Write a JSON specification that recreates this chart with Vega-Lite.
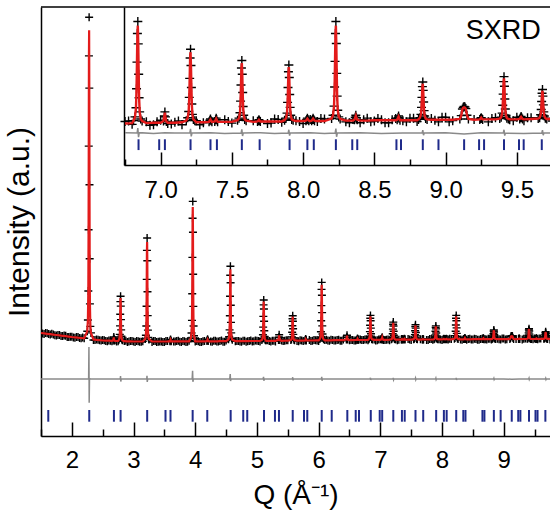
{
"$schema": "https://vega.github.io/schema/vega-lite/v6.json",
"width": 509, "height": 429,
"autosize": {"type": "none"},
"padding": {"left": 41, "top": 7, "right": 0, "bottom": 76},
"background": "white",
"config": {"view": {"stroke": null}, "axis": {"grid": false, "domainColor": "black", "tickColor": "black", "labelColor": "black", "titleColor": "black", "labelFont": "Liberation Sans", "titleFont": "Liberation Sans", "titleFontWeight": "normal"}},
"datasets": {
"pat": [
{"q":1.50,"o":1033,"c":1030},{"q":1.55,"o":1021,"c":1026},{"q":1.60,"o":1028,"c":1022},{"q":1.65,"o":1016,"c":1018},{"q":1.70,"o":1015,"c":1014},{"q":1.75,"o":1004,"c":1010},{"q":1.80,"o":1010,"c":1006},{"q":1.85,"o":1001,"c":1002},{"q":1.90,"o":1003,"c":998},{"q":1.95,"o":991,"c":994},{"q":2.00,"o":993,"c":990},{"q":2.05,"o":982,"c":987},{"q":2.10,"o":989,"c":983},{"q":2.15,"o":978,"c":980},{"q":2.20,"o":977,"c":976},{"q":2.35,"o":960,"c":966},{"q":2.40,"o":966,"c":962},{"q":2.45,"o":958,"c":959},{"q":2.50,"o":960,"c":955},{"q":2.55,"o":951,"c":954},{"q":2.60,"o":956,"c":953},{"q":2.65,"o":947,"c":952},{"q":2.70,"o":957,"c":951},{"q":2.75,"o":948,"c":950},{"q":2.85,"o":949,"c":948},{"q":2.90,"o":941,"c":947},{"q":2.95,"o":950,"c":946},{"q":3.00,"o":944,"c":945},{"q":3.05,"o":950,"c":945},{"q":3.10,"o":942,"c":945},{"q":3.15,"o":948,"c":945},{"q":3.30,"o":940,"c":945},{"q":3.35,"o":951,"c":945},{"q":3.40,"o":943,"c":945},{"q":3.45,"o":946,"c":945},{"q":3.50,"o":939,"c":945},{"q":3.55,"o":950,"c":946},{"q":3.65,"o":945,"c":946},{"q":3.70,"o":951,"c":946},{"q":3.75,"o":943,"c":946},{"q":3.80,"o":949,"c":946},{"q":3.85,"o":941,"c":946},{"q":3.90,"o":952,"c":946},{"q":4.00,"o":944,"c":946},{"q":4.05,"o":947,"c":946},{"q":4.10,"o":940,"c":946},{"q":4.15,"o":951,"c":947},{"q":4.25,"o":946,"c":947},{"q":4.30,"o":952,"c":947},{"q":4.35,"o":944,"c":947},{"q":4.40,"o":951,"c":948},{"q":4.45,"o":943,"c":948},{"q":4.50,"o":954,"c":948},{"q":4.65,"o":947,"c":949},{"q":4.70,"o":950,"c":949},{"q":4.75,"o":943,"c":949},{"q":4.80,"o":953,"c":949},{"q":4.85,"o":948,"c":949},{"q":4.90,"o":955,"c":950},{"q":4.95,"o":947,"c":950},{"q":5.00,"o":953,"c":950},{"q":5.05,"o":945,"c":950},{"q":5.15,"o":957,"c":951},{"q":5.20,"o":949,"c":951},{"q":5.25,"o":952,"c":951},{"q":5.30,"o":946,"c":952},{"q":5.40,"o":956,"c":952},{"q":5.45,"o":952,"c":953},{"q":5.50,"o":958,"c":953},{"q":5.65,"o":951,"c":954},{"q":5.70,"o":957,"c":954},{"q":5.75,"o":949,"c":954},{"q":5.85,"o":961,"c":955},{"q":5.90,"o":953,"c":955},{"q":5.95,"o":957,"c":956},{"q":6.00,"o":950,"c":956},{"q":6.10,"o":961,"c":957},{"q":6.15,"o":956,"c":957},{"q":6.20,"o":962,"c":957},{"q":6.25,"o":955,"c":958},{"q":6.30,"o":961,"c":958},{"q":6.35,"o":953,"c":958},{"q":6.40,"o":964,"c":958},{"q":6.50,"o":957,"c":959},{"q":6.55,"o":960,"c":959},{"q":6.60,"o":954,"c":960},{"q":6.65,"o":964,"c":960},{"q":6.70,"o":959,"c":960},{"q":6.75,"o":965,"c":960},{"q":6.80,"o":958,"c":961},{"q":6.90,"o":964,"c":961},{"q":6.95,"o":957,"c":962},{"q":7.00,"o":968,"c":962},{"q":7.05,"o":960,"c":962},{"q":7.10,"o":963,"c":962},{"q":7.15,"o":957,"c":963},{"q":7.25,"o":967,"c":963},{"q":7.30,"o":962,"c":963},{"q":7.45,"o":969,"c":964},{"q":7.50,"o":961,"c":964},{"q":7.65,"o":967,"c":964},{"q":7.75,"o":960,"c":965},{"q":7.80,"o":971,"c":965},{"q":7.85,"o":963,"c":965},{"q":7.95,"o":967,"c":966},{"q":8.00,"o":960,"c":966},{"q":8.05,"o":970,"c":966},{"q":8.10,"o":965,"c":966},{"q":8.15,"o":971,"c":966},{"q":8.30,"o":964,"c":967},{"q":8.35,"o":970,"c":967},{"q":8.40,"o":962,"c":967},{"q":8.45,"o":973,"c":967},{"q":8.50,"o":966,"c":968},{"q":8.55,"o":969,"c":968},{"q":8.60,"o":962,"c":968},{"q":8.65,"o":972,"c":968},{"q":8.70,"o":967,"c":968},{"q":8.75,"o":973,"c":968},{"q":8.80,"o":965,"c":968},{"q":8.90,"o":972,"c":969},{"q":8.95,"o":964,"c":969},{"q":9.00,"o":975,"c":969},{"q":9.05,"o":967,"c":969},{"q":9.20,"o":970,"c":969},{"q":9.30,"o":964,"c":970},{"q":9.35,"o":974,"c":970},{"q":9.45,"o":969,"c":970},{"q":9.50,"o":975,"c":970},{"q":9.55,"o":967,"c":970},{"q":9.60,"o":974,"c":971},{"q":9.75,"o":966,"c":971},{"q":9.80,"o":977,"c":971},{"q":9.85,"o":970,"c":972},
{"q":1.525,"o":1024},{"q":1.575,"o":1029},{"q":1.625,"o":1019},{"q":1.675,"o":1022},{"q":1.725,"o":1007},{"q":1.775,"o":1010},{"q":1.825,"o":1001},{"q":1.875,"o":1004},{"q":1.925,"o":990},{"q":1.975,"o":993},{"q":2.025,"o":984},{"q":2.075,"o":990},{"q":2.125,"o":980},{"q":2.175,"o":984},{"q":2.375,"o":959},{"q":2.425,"o":962},{"q":2.475,"o":954},{"q":2.525,"o":958},{"q":2.575,"o":947},{"q":2.625,"o":953},{"q":2.725,"o":946},{"q":2.875,"o":952},{"q":2.925,"o":945},{"q":2.975,"o":951},{"q":3.025,"o":940},{"q":3.075,"o":947},{"q":3.125,"o":942},{"q":3.325,"o":949},{"q":3.375,"o":939},{"q":3.425,"o":946},{"q":3.475,"o":941},{"q":3.525,"o":950},{"q":3.675,"o":945},{"q":3.725,"o":952},{"q":3.775,"o":941},{"q":3.825,"o":948},{"q":3.875,"o":943},{"q":4.025,"o":950},{"q":4.075,"o":940},{"q":4.125,"o":947},{"q":4.275,"o":943},{"q":4.325,"o":952},{"q":4.375,"o":946},{"q":4.425,"o":954},{"q":4.475,"o":943},{"q":4.675,"o":951},{"q":4.725,"o":946},{"q":4.775,"o":953},{"q":4.825,"o":943},{"q":4.875,"o":950},{"q":4.925,"o":946},{"q":4.975,"o":955},{"q":5.025,"o":949},{"q":5.175,"o":957},{"q":5.225,"o":946},{"q":5.275,"o":953},{"q":5.425,"o":949},{"q":5.475,"o":957},{"q":5.675,"o":948},{"q":5.725,"o":955},{"q":5.875,"o":951},{"q":5.925,"o":960},{"q":5.975,"o":955},{"q":6.125,"o":963},{"q":6.175,"o":952},{"q":6.225,"o":959},{"q":6.275,"o":955},{"q":6.325,"o":962},{"q":6.375,"o":952},{"q":6.525,"o":960},{"q":6.575,"o":955},{"q":6.675,"o":965},{"q":6.725,"o":959},{"q":6.775,"o":966},{"q":6.925,"o":956},{"q":6.975,"o":964},{"q":7.075,"o":959},{"q":7.125,"o":966},{"q":7.275,"o":957},{"q":7.475,"o":965},{"q":7.775,"o":961},{"q":7.825,"o":970},{"q":7.975,"o":965},{"q":8.125,"o":972},{"q":8.325,"o":962},{"q":8.425,"o":969},{"q":8.475,"o":964},{"q":8.525,"o":972},{"q":8.575,"o":962},{"q":8.625,"o":969},{"q":8.725,"o":964},{"q":8.775,"o":973},{"q":8.925,"o":968},{"q":8.975,"o":975},{"q":9.025,"o":964},{"q":9.325,"o":972},{"q":9.475,"o":967},{"q":9.575,"o":974},{"q":9.775,"o":965},{"q":9.825,"o":972},
{"q":2.25,"o":1048,"c":1048},{"q":2.26,"o":1160,"c":1160},{"q":2.267,"o":1450,"c":1450},{"q":2.271,"o":2062,"c":2062},{"q":2.274,"o":2899,"c":2899},{"q":2.277,"o":3801,"c":3801},{"q":2.28,"o":4187,"c":4058},{"q":2.283,"o":3479,"c":3479},{"q":2.286,"o":2513,"c":2513},{"q":2.289,"o":1772,"c":1772},{"q":2.293,"o":1321,"c":1321},{"q":2.30,"o":1096,"c":1096},{"q":2.31,"o":1031,"c":1031},
{"q":2.67,"o":956,"c":956},{"q":2.676,"o":974,"c":974},{"q":2.68,"o":990,"c":986},{"q":2.684,"o":972,"c":972},{"q":2.69,"o":955,"c":955},
{"q":2.76,"o":959,"c":959},{"q":2.77,"o":975,"c":975},{"q":2.777,"o":1016,"c":1016},{"q":2.781,"o":1101,"c":1101},{"q":2.784,"o":1218,"c":1218},{"q":2.787,"o":1344,"c":1344},{"q":2.79,"o":1398,"c":1380},{"q":2.793,"o":1299,"c":1299},{"q":2.796,"o":1164,"c":1164},{"q":2.799,"o":1061,"c":1061},{"q":2.803,"o":998,"c":998},{"q":2.81,"o":966,"c":966},{"q":2.82,"o":957,"c":957},
{"q":3.19,"o":971,"c":971},{"q":3.20,"o":1007,"c":1007},{"q":3.207,"o":1100,"c":1100},{"q":3.211,"o":1297,"c":1297},{"q":3.214,"o":1566,"c":1566},{"q":3.217,"o":1856,"c":1856},{"q":3.22,"o":1980,"c":1939},{"q":3.223,"o":1752,"c":1752},{"q":3.226,"o":1442,"c":1442},{"q":3.229,"o":1204,"c":1204},{"q":3.233,"o":1059,"c":1059},{"q":3.24,"o":986,"c":986},{"q":3.25,"o":966,"c":966},
{"q":3.59,"o":948,"c":948},{"q":3.596,"o":957,"c":957},{"q":3.60,"o":965,"c":963},{"q":3.604,"o":956,"c":956},{"q":3.61,"o":947,"c":947},
{"q":3.93,"o":981,"c":981},{"q":3.94,"o":1030,"c":1030},{"q":3.947,"o":1156,"c":1156},{"q":3.951,"o":1422,"c":1422},{"q":3.954,"o":1786,"c":1786},{"q":3.957,"o":2178,"c":2178},{"q":3.96,"o":2346,"c":2290},{"q":3.963,"o":2038,"c":2038},{"q":3.966,"o":1618,"c":1618},{"q":3.969,"o":1296,"c":1296},{"q":3.973,"o":1100,"c":1100},{"q":3.98,"o":1002,"c":1002},{"q":3.99,"o":974,"c":974},
{"q":4.19,"o":950,"c":950},{"q":4.196,"o":959,"c":959},{"q":4.20,"o":967,"c":965},{"q":4.204,"o":958,"c":958},{"q":4.21,"o":949,"c":949},
{"q":4.54,"o":967,"c":967},{"q":4.55,"o":993,"c":993},{"q":4.557,"o":1061,"c":1061},{"q":4.561,"o":1203,"c":1203},{"q":4.564,"o":1398,"c":1398},{"q":4.567,"o":1608,"c":1608},{"q":4.57,"o":1698,"c":1668},{"q":4.573,"o":1533,"c":1533},{"q":4.576,"o":1308,"c":1308},{"q":4.579,"o":1136,"c":1136},{"q":4.583,"o":1031,"c":1031},{"q":4.59,"o":978,"c":978},{"q":4.60,"o":963,"c":963},
{"q":5.08,"o":960,"c":960},{"q":5.09,"o":975,"c":975},{"q":5.097,"o":1012,"c":1012},{"q":5.101,"o":1089,"c":1089},{"q":5.104,"o":1196,"c":1196},{"q":5.107,"o":1311,"c":1311},{"q":5.11,"o":1360,"c":1344},{"q":5.113,"o":1270,"c":1270},{"q":5.116,"o":1147,"c":1147},{"q":5.119,"o":1053,"c":1053},{"q":5.123,"o":995,"c":995},{"q":5.13,"o":966,"c":966},{"q":5.14,"o":958,"c":958},
{"q":5.35,"o":961,"c":961},{"q":5.356,"o":988,"c":988},{"q":5.36,"o":1012,"c":1006},{"q":5.364,"o":985,"c":985},{"q":5.37,"o":959,"c":959},
{"q":5.55,"o":959,"c":959},{"q":5.56,"o":968,"c":968},{"q":5.567,"o":991,"c":991},{"q":5.571,"o":1038,"c":1038},{"q":5.574,"o":1103,"c":1103},{"q":5.577,"o":1173,"c":1173},{"q":5.58,"o":1203,"c":1193},{"q":5.583,"o":1148,"c":1148},{"q":5.586,"o":1073,"c":1073},{"q":5.589,"o":1016,"c":1016},{"q":5.593,"o":981,"c":981},{"q":5.60,"o":963,"c":963},{"q":5.61,"o":958,"c":958},
{"q":5.78,"o":956,"c":956},{"q":5.786,"o":963,"c":963},{"q":5.79,"o":969,"c":968},{"q":5.794,"o":962,"c":962},{"q":5.80,"o":956,"c":956},
{"q":6.02,"o":971,"c":971},{"q":6.03,"o":991,"c":991},{"q":6.037,"o":1043,"c":1043},{"q":6.041,"o":1153,"c":1153},{"q":6.044,"o":1304,"c":1304},{"q":6.047,"o":1466,"c":1466},{"q":6.05,"o":1536,"c":1513},{"q":6.053,"o":1408,"c":1408},{"q":6.056,"o":1234,"c":1234},{"q":6.059,"o":1101,"c":1101},{"q":6.063,"o":1020,"c":1020},{"q":6.07,"o":979,"c":979},{"q":6.08,"o":968,"c":968},
{"q":6.45,"o":966,"c":966},{"q":6.456,"o":988,"c":988},{"q":6.46,"o":1008,"c":1003},{"q":6.464,"o":986,"c":986},{"q":6.47,"o":964,"c":964},
{"q":6.62,"o":961,"c":961},{"q":6.626,"o":968,"c":968},{"q":6.63,"o":974,"c":973},{"q":6.634,"o":967,"c":967},{"q":6.64,"o":961,"c":961},
{"q":6.81,"o":967,"c":967},{"q":6.82,"o":976,"c":976},{"q":6.827,"o":998,"c":998},{"q":6.831,"o":1044,"c":1044},{"q":6.834,"o":1108,"c":1108},{"q":6.837,"o":1177,"c":1177},{"q":6.84,"o":1206,"c":1196},{"q":6.843,"o":1152,"c":1152},{"q":6.846,"o":1079,"c":1079},{"q":6.849,"o":1022,"c":1022},{"q":6.853,"o":988,"c":988},{"q":6.86,"o":971,"c":971},{"q":6.87,"o":966,"c":966},
{"q":7.02,"o":966,"c":966},{"q":7.026,"o":978,"c":978},{"q":7.03,"o":988,"c":986},{"q":7.034,"o":976,"c":976},{"q":7.04,"o":965,"c":965},
{"q":7.18,"o":967,"c":967},{"q":7.19,"o":974,"c":974},{"q":7.197,"o":989,"c":989},{"q":7.201,"o":1023,"c":1023},{"q":7.204,"o":1069,"c":1069},{"q":7.207,"o":1118,"c":1118},{"q":7.21,"o":1139,"c":1132},{"q":7.213,"o":1100,"c":1100},{"q":7.216,"o":1047,"c":1047},{"q":7.219,"o":1007,"c":1007},{"q":7.223,"o":982,"c":982},{"q":7.23,"o":970,"c":970},{"q":7.24,"o":967,"c":967},
{"q":7.34,"o":964,"c":964},{"q":7.346,"o":968,"c":968},{"q":7.35,"o":971,"c":970},{"q":7.354,"o":967,"c":967},{"q":7.36,"o":964,"c":964},
{"q":7.38,"o":965,"c":965},{"q":7.386,"o":969,"c":969},{"q":7.39,"o":973,"c":972},{"q":7.394,"o":969,"c":969},{"q":7.40,"o":964,"c":964},
{"q":7.54,"o":968,"c":968},{"q":7.55,"o":973,"c":973},{"q":7.557,"o":986,"c":986},{"q":7.561,"o":1014,"c":1014},{"q":7.564,"o":1053,"c":1053},{"q":7.567,"o":1094,"c":1094},{"q":7.57,"o":1112,"c":1106},{"q":7.573,"o":1079,"c":1079},{"q":7.576,"o":1035,"c":1035},{"q":7.579,"o":1001,"c":1001},{"q":7.583,"o":980,"c":980},{"q":7.59,"o":970,"c":970},{"q":7.60,"o":967,"c":967},
{"q":7.68,"o":965,"c":965},{"q":7.686,"o":967,"c":967},{"q":7.69,"o":969,"c":969},{"q":7.694,"o":967,"c":967},{"q":7.70,"o":965,"c":965},
{"q":7.87,"o":968,"c":968},{"q":7.88,"o":973,"c":973},{"q":7.887,"o":985,"c":985},{"q":7.891,"o":1011,"c":1011},{"q":7.894,"o":1047,"c":1047},{"q":7.897,"o":1085,"c":1085},{"q":7.90,"o":1101,"c":1096},{"q":7.903,"o":1071,"c":1071},{"q":7.906,"o":1030,"c":1030},{"q":7.909,"o":999,"c":999},{"q":7.913,"o":980,"c":980},{"q":7.92,"o":970,"c":970},{"q":7.93,"o":968,"c":968},
{"q":8.02,"o":967,"c":967},{"q":8.026,"o":970,"c":970},{"q":8.03,"o":973,"c":972},{"q":8.034,"o":970,"c":970},{"q":8.04,"o":967,"c":967},
{"q":8.06,"o":967,"c":967},{"q":8.066,"o":970,"c":970},{"q":8.07,"o":973,"c":972},{"q":8.074,"o":970,"c":970},{"q":8.08,"o":967,"c":967},
{"q":8.20,"o":972,"c":972},{"q":8.21,"o":980,"c":980},{"q":8.217,"o":1002,"c":1002},{"q":8.221,"o":1048,"c":1048},{"q":8.224,"o":1110,"c":1110},{"q":8.227,"o":1177,"c":1177},{"q":8.23,"o":1206,"c":1196},{"q":8.233,"o":1153,"c":1153},{"q":8.236,"o":1081,"c":1081},{"q":8.239,"o":1026,"c":1026},{"q":8.243,"o":992,"c":992},{"q":8.25,"o":976,"c":976},{"q":8.26,"o":971,"c":971},
{"q":8.36,"o":969,"c":969},{"q":8.366,"o":975,"c":975},{"q":8.37,"o":980,"c":979},{"q":8.374,"o":974,"c":974},{"q":8.38,"o":969,"c":969},
{"q":8.66,"o":969,"c":969},{"q":8.666,"o":974,"c":974},{"q":8.67,"o":978,"c":977},{"q":8.674,"o":973,"c":973},{"q":8.68,"o":968,"c":968},
{"q":8.81,"o":970,"c":970},{"q":8.82,"o":974,"c":974},{"q":8.827,"o":982,"c":982},{"q":8.831,"o":999,"c":999},{"q":8.834,"o":1023,"c":1023},{"q":8.837,"o":1049,"c":1049},{"q":8.84,"o":1060,"c":1056},{"q":8.843,"o":1040,"c":1040},{"q":8.846,"o":1012,"c":1012},{"q":8.849,"o":991,"c":991},{"q":8.853,"o":978,"c":978},{"q":8.86,"o":972,"c":972},{"q":8.87,"o":970,"c":970},
{"q":9.10,"o":971,"c":971},{"q":9.11,"o":979,"c":979},{"q":9.118,"o":995,"c":995},{"q":9.124,"o":999,"c":998},{"q":9.13,"o":1001,"c":999},{"q":9.136,"o":1000,"c":998},{"q":9.142,"o":996,"c":995},{"q":9.15,"o":980,"c":980},{"q":9.16,"o":971,"c":971},
{"q":9.24,"o":970,"c":970},{"q":9.246,"o":972,"c":972},{"q":9.25,"o":974,"c":974},{"q":9.254,"o":972,"c":972},{"q":9.26,"o":970,"c":970},
{"q":9.38,"o":972,"c":972},{"q":9.39,"o":975,"c":975},{"q":9.397,"o":985,"c":985},{"q":9.401,"o":1004,"c":1004},{"q":9.404,"o":1031,"c":1031},{"q":9.407,"o":1061,"c":1061},{"q":9.41,"o":1073,"c":1069},{"q":9.413,"o":1050,"c":1050},{"q":9.416,"o":1019,"c":1019},{"q":9.419,"o":995,"c":995},{"q":9.423,"o":980,"c":980},{"q":9.43,"o":973,"c":973},{"q":9.44,"o":971,"c":971},
{"q":9.52,"o":971,"c":971},{"q":9.526,"o":974,"c":974},{"q":9.53,"o":977,"c":976},{"q":9.534,"o":974,"c":974},{"q":9.54,"o":971,"c":971},
{"q":9.65,"o":972,"c":972},{"q":9.66,"o":974,"c":974},{"q":9.667,"o":981,"c":981},{"q":9.671,"o":994,"c":994},{"q":9.674,"o":1013,"c":1013},{"q":9.677,"o":1033,"c":1033},{"q":9.68,"o":1042,"c":1039},{"q":9.683,"o":1026,"c":1026},{"q":9.686,"o":1005,"c":1005},{"q":9.689,"o":988,"c":988},{"q":9.693,"o":978,"c":978},{"q":9.70,"o":973,"c":973},{"q":9.71,"o":971,"c":971}
],
"dif": [
{"q":1.50,"d":570},{"q":1.80,"d":571},{"q":2.10,"d":569},{"q":2.26,"d":570},{"q":2.272,"d":572},{"q":2.277,"d":890},{"q":2.281,"d":332},{"q":2.286,"d":578},{"q":2.30,"d":570},{"q":2.50,"d":571},{"q":2.785,"d":570},{"q":2.789,"d":600},{"q":2.793,"d":545},{"q":2.80,"d":570},{"q":3.00,"d":571},{"q":3.214,"d":570},{"q":3.218,"d":602},{"q":3.222,"d":540},{"q":3.23,"d":570},{"q":3.50,"d":569},{"q":3.95,"d":570},{"q":3.957,"d":652},{"q":3.962,"d":542},{"q":3.97,"d":570},{"q":4.30,"d":571},{"q":4.56,"d":570},{"q":4.567,"d":620},{"q":4.572,"d":550},{"q":4.58,"d":570},{"q":4.80,"d":570},{"q":5.10,"d":570},{"q":5.107,"d":592},{"q":5.112,"d":552},{"q":5.12,"d":570},{"q":5.40,"d":571},{"q":5.575,"d":570},{"q":5.58,"d":588},{"q":5.585,"d":556},{"q":5.59,"d":570},{"q":5.80,"d":569},{"q":6.045,"d":570},{"q":6.05,"d":592},{"q":6.055,"d":552},{"q":6.06,"d":570},{"q":6.30,"d":571},{"q":6.60,"d":570},{"q":6.75,"d":571},{"q":6.835,"d":570},{"q":6.84,"d":582},{"q":6.845,"d":560},{"q":6.85,"d":571},{"q":6.95,"d":569},{"q":7.03,"d":571},{"q":7.10,"d":570},{"q":7.205,"d":570},{"q":7.21,"d":580},{"q":7.215,"d":562},{"q":7.22,"d":570},{"q":7.35,"d":571},{"q":7.45,"d":569},{"q":7.565,"d":570},{"q":7.57,"d":579},{"q":7.575,"d":563},{"q":7.58,"d":570},{"q":7.70,"d":571},{"q":7.80,"d":569},{"q":7.895,"d":570},{"q":7.90,"d":578},{"q":7.905,"d":564},{"q":7.91,"d":570},{"q":8.05,"d":571},{"q":8.15,"d":569},{"q":8.225,"d":570},{"q":8.23,"d":581},{"q":8.235,"d":561},{"q":8.24,"d":570},{"q":8.40,"d":571},{"q":8.55,"d":569},{"q":8.70,"d":570},{"q":8.835,"d":570},{"q":8.84,"d":577},{"q":8.845,"d":565},{"q":8.85,"d":570},{"q":9.00,"d":571},{"q":9.13,"d":568},{"q":9.25,"d":571},{"q":9.405,"d":570},{"q":9.41,"d":578},{"q":9.415,"d":564},{"q":9.42,"d":570},{"q":9.55,"d":569},{"q":9.675,"d":570},{"q":9.68,"d":577},{"q":9.685,"d":565},{"q":9.69,"d":570},{"q":9.85,"d":570}
],
"hkl": [
{"q":1.618},{"q":2.282},{"q":2.682},{"q":2.79},{"q":3.221},{"q":3.518},{"q":3.599},{"q":3.958},{"q":4.195},{"q":4.574},{"q":4.778},{"q":4.843},{"q":5.114},{"q":5.292},{"q":5.357},{"q":5.58},{"q":5.763},{"q":5.816},{"q":6.05},{"q":6.212},{"q":6.465},{"q":6.601},{"q":6.654},{"q":6.845},{"q":6.99},{"q":7.03},{"q":7.21},{"q":7.35},{"q":7.395},{"q":7.57},{"q":7.695},{"q":7.905},{"q":8.03},{"q":8.075},{"q":8.23},{"q":8.345},{"q":8.38},{"q":8.655},{"q":8.687},{"q":8.84},{"q":8.95},{"q":9.13},{"q":9.235},{"q":9.27},{"q":9.41},{"q":9.515},{"q":9.548},{"q":9.675}
]
},
"layer": [
{"data": {"name": "pat"},
 "mark": {"type": "point", "shape": "M-1,0L1,0M0,-1L0,1", "filled": false, "stroke": "black", "strokeWidth": 1.4, "size": 64, "opacity": 1, "clip": true},
 "encoding": {
  "x": {"field": "q", "type": "quantitative", "scale": {"domain": [1.5, 9.75], "nice": false, "zero": false},
   "axis": {"orient": "bottom", "values": [1.5,2,2.5,3,3.5,4,4.5,5,5.5,6,6.5,7,7.5,8,8.5,9,9.5],
    "labelExpr": "datum.value % 1 === 0 ? format(datum.value, 'd') : ''", "labelFontSize": 24, "labelPadding": 26, "labelFlush": false, "labelOverlap": false, "labelBound": false,
    "tickSize": {"condition": {"test": "datum.value % 1 === 0", "value": -14}, "value": -7}, "tickWidth": 1.5, "domainWidth": 1.5,
    "title": "Q (Å⁻¹)", "titleFontSize": 28, "titlePadding": 2}},
  "y": {"field": "o", "type": "quantitative", "scale": {"domain": [0, 4290], "nice": false, "zero": false},
   "axis": {"orient": "left", "ticks": false, "labels": false, "domainWidth": 1.5, "title": "Intensity (a.u.)", "titleFontSize": 30, "titlePadding": 7}}
 }},
{"data": {"name": "pat"}, "transform": [{"filter": "isValid(datum.c)"}],
 "mark": {"type": "line", "color": "#e31b1b", "strokeWidth": 2.2, "clip": true},
 "encoding": {
  "x": {"field": "q", "type": "quantitative", "scale": {"domain": [1.5, 9.75], "nice": false, "zero": false}, "axis": null},
  "y": {"field": "c", "type": "quantitative", "scale": {"domain": [0, 4290], "nice": false, "zero": false}, "axis": null}
 }},
{"data": {"name": "dif"},
 "mark": {"type": "line", "color": "#8a8a8a", "strokeWidth": 1.5},
 "encoding": {
  "x": {"field": "q", "type": "quantitative", "scale": {"domain": [1.5, 9.75], "nice": false, "zero": false}, "axis": null},
  "y": {"field": "d", "type": "quantitative", "scale": {"domain": [0, 4290], "nice": false, "zero": false}, "axis": null}
 }},
{"data": {"name": "hkl"},
 "mark": {"type": "rule", "color": "#1f2a8a", "strokeWidth": 2},
 "encoding": {
  "x": {"field": "q", "type": "quantitative", "scale": {"domain": [1.5, 9.75], "nice": false, "zero": false}, "axis": null},
  "y": {"datum": 260, "scale": {"domain": [0, 4290], "nice": false, "zero": false}, "axis": null},
  "y2": {"datum": 143}
 }},
{"data": {"values": [{}]},
 "mark": {"type": "rule", "color": "black", "strokeWidth": 1.5},
 "encoding": {"y": {"datum": 4290, "scale": {"domain": [0, 4290], "nice": false, "zero": false}, "axis": null}}},
{"data": {"name": "pat"}, "transform": [{"filter": "datum.q >= 6.743"}],
 "mark": {"type": "point", "shape": "M-1,0L1,0M0,-1L0,1", "filled": false, "stroke": "black", "strokeWidth": 1.4, "size": 81, "opacity": 1},
 "encoding": {
  "x": {"field": "q", "type": "quantitative", "scale": {"domain": [6.743, 9.845], "range": [83, 525], "nice": false, "zero": false},
   "axis": {"orient": "bottom", "offset": -271, "values": [6.75,7,7.25,7.5,7.75,8,8.25,8.5,8.75,9,9.25,9.5,9.75],
    "labelExpr": "abs(datum.value*2 - round(datum.value*2)) < 0.001 ? format(datum.value, '.1f') : ''",
    "labelFontSize": 24, "labelPadding": 26, "labelFlush": false, "labelOverlap": false, "labelBound": false,
    "tickSize": {"condition": {"test": "abs(datum.value*2 - round(datum.value*2)) < 0.001", "value": -13}, "value": -6},
    "tickWidth": 1.5, "domainWidth": 1.5, "title": null}},
  "y": {"field": "o", "type": "quantitative", "scale": {"domain": [860, 1241], "range": [158, 0], "nice": false, "zero": false},
   "axis": {"orient": "left", "offset": -83, "ticks": false, "labels": false, "title": null, "domainWidth": 1.5}}
 }},
{"data": {"name": "pat"}, "transform": [{"filter": "datum.q >= 6.743 && isValid(datum.c)"}],
 "mark": {"type": "line", "color": "#e31b1b", "strokeWidth": 2.4},
 "encoding": {
  "x": {"field": "q", "type": "quantitative", "scale": {"domain": [6.743, 9.845], "range": [83, 525], "nice": false, "zero": false}, "axis": null},
  "y": {"field": "c", "type": "quantitative", "scale": {"domain": [860, 1241], "range": [158, 0], "nice": false, "zero": false}, "axis": null}
 }},
{"data": {"name": "hkl"}, "transform": [{"filter": "datum.q >= 6.743"}],
 "mark": {"type": "rule", "color": "#1f2a8a", "strokeWidth": 2},
 "encoding": {
  "x": {"field": "q", "type": "quantitative", "scale": {"domain": [6.743, 9.845], "range": [83, 525], "nice": false, "zero": false}, "axis": null},
  "y": {"datum": 922, "scale": {"domain": [860, 1241], "range": [158, 0], "nice": false, "zero": false}, "axis": null},
  "y2": {"datum": 896}
 }},
{"data": {"values": [{}]},
 "mark": {"type": "text", "text": "SXRD", "font": "Liberation Sans", "fontSize": 27, "align": "center", "baseline": "middle", "color": "black"},
 "encoding": {
  "x": {"datum": 9.405, "scale": {"domain": [6.743, 9.845], "range": [83, 525], "nice": false, "zero": false}, "axis": null},
  "y": {"datum": 1184, "scale": {"domain": [860, 1241], "range": [158, 0], "nice": false, "zero": false}, "axis": null}}},
{"data": {"name": "dif"}, "transform": [{"filter": "datum.q >= 6.743"}],
 "mark": {"type": "line", "color": "#8a8a8a", "strokeWidth": 1.5},
 "encoding": {
  "x": {"field": "q", "type": "quantitative", "scale": {"domain": [6.743, 9.845], "range": [83, 525], "nice": false, "zero": false}, "axis": null},
  "y": {"field": "d", "type": "quantitative", "scale": {"domain": [493, 874], "range": [158, 0], "nice": false, "zero": false}, "axis": null}
 }}
],
"resolve": {"scale": {"x": "independent", "y": "independent"}, "axis": {"x": "independent", "y": "independent"}}
}
